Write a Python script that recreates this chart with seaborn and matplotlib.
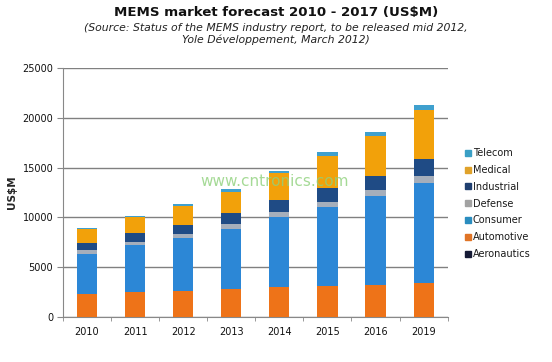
import matplotlib
matplotlib.use("Agg")
import matplotlib.pyplot as plt
import seaborn as sns
import pandas as pd

# Valores (US$M)
anos = ['2010', '2011', '2012', '2013', '2014', '2015', '2016', '2019']
aeronautics = [20, 20, 25, 25, 30, 30, 35, 35]
automotive = [2300, 2480, 2640, 2810, 2980, 3110, 3210, 3380]
consumer = [4000, 4750, 5320, 6030, 7030, 7900, 8870, 10040]
defense = [400, 300, 370, 470, 500, 510, 600, 670]
industrial = [750, 870, 940, 1100, 1240, 1400, 1480, 1740]
medical = [1350, 1600, 1870, 2140, 2680, 3180, 4010, 4880]
telecom = [170, 140, 170, 270, 230, 400, 370, 540]

segmentos = ['Aeronautics', 'Automotive', 'Consumer', 'Defense', 'Industrial', 'Medical', 'Telecom']
cores_barra = ['#161B38', '#EE7318', '#2C87D6', '#A5AEBB', '#1F4B85', '#F2A10A', '#3FA0CE']
cores_legenda = ['#151A35', '#E07426', '#2A8DBF', '#A2A2A2', '#1F3F70', '#E0A22A', '#3A9FC5']

df = pd.DataFrame({'Ano': anos, 'Aeronautics': aeronautics, 'Automotive': automotive,
                   'Consumer': consumer, 'Defense': defense, 'Industrial': industrial,
                   'Medical': medical, 'Telecom': telecom})
acum = df[segmentos].cumsum(axis=1)
acum['Ano'] = anos

sns.set_style('white')
fig = plt.figure(figsize=(5.52, 3.62), dpi=100)
ax = fig.add_axes([0.114, 0.124, 0.697, 0.688])

# barras empilhadas: desenha do acumulado maior para o menor
for seg, cor in reversed(list(zip(segmentos, cores_barra))):
    sns.barplot(data=acum, x='Ano', y=seg, color=cor, width=0.42, ax=ax,
                saturation=1, linewidth=0, zorder=3)

ax.set_ylim(0, 25000)
ax.set_xlim(-0.5, len(anos) - 0.5)
ax.set_yticks(range(0, 25001, 5000))
ax.yaxis.grid(True, color='#808080', linewidth=1, zorder=0)
ax.set_axisbelow(True)
for s in ['top', 'right']:
    ax.spines[s].set_visible(False)
for s in ['left', 'bottom']:
    ax.spines[s].set_color('#888888')
    ax.spines[s].set_linewidth(0.8)

ax.set_xticks([i - 0.5 for i in range(len(anos) + 1)], minor=True)
ax.tick_params(axis='x', which='major', length=0, labelsize=7, pad=7, colors='#111111')
ax.tick_params(axis='x', which='minor', length=3, color='#888888', direction='out')
ax.tick_params(axis='y', which='major', length=4, color='#888888', direction='out',
               labelsize=7, colors='#111111', pad=3)
ax.tick_params(bottom=True, left=True, which='both')
ax.set_xlabel('')
ax.set_ylabel('US$M', fontsize=7.5, fontweight='bold', labelpad=4)

# legenda
handles = [plt.Line2D([], [], marker='s', linestyle='', markersize=4.5, color=c)
           for c in cores_legenda]
leg = fig.legend(handles[::-1], segmentos[::-1], loc='upper left',
                 bbox_to_anchor=(0.825, 0.615), frameon=False, fontsize=7,
                 handletextpad=0.1, labelspacing=0.7, handlelength=0.8)
for t in leg.get_texts():
    t.set_color('#1A1A1A')

# títulos
fig.text(0.5, 0.966, 'MEMS market forecast 2010 - 2017 (US$M)', ha='center', va='center',
         fontsize=9.6, fontweight='bold', color='#111111')
fig.text(0.5, 0.905, '(Source: Status of the MEMS industry report, to be released mid 2012,\n'
         'Yole Développement, March 2012)', ha='center', va='center', fontsize=7.8,
         style='italic', color='#222222', linespacing=1.2)

# marca d'água
fig.text(0.498, 0.5, 'www.cntronics.com', ha='center', va='center', fontsize=11,
         color='#8FD17C', alpha=0.8, zorder=10)

fig.savefig('out.png', dpi=100)
